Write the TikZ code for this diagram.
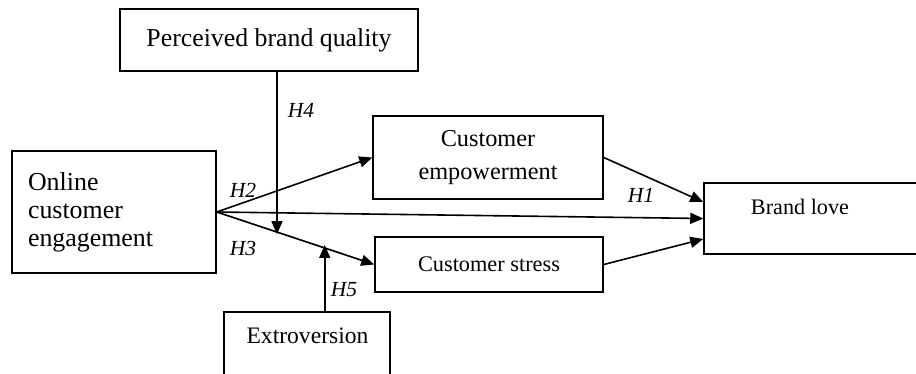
\documentclass[tikz,border=0pt]{standalone}
\usepackage{fontspec}
\setmainfont{Liberation Serif}
\usetikzlibrary{arrows.meta,calc}
\begin{document}
\begin{tikzpicture}[x=1pt,y=-1pt,
  box/.style={draw,line width=1.5pt,rectangle,inner sep=0pt},
  conn/.style={line width=1.6pt,-{Triangle[length=13pt,width=11pt]}},
  lab/.style={inner sep=0pt,font=\fontsize{21.5}{24}\selectfont\itshape},
  txt/.style={inner sep=0pt}]
\useasboundingbox (0,0) rectangle (916,373);
\clip (0,0) rectangle (916,373);
% boxes
\node[box, minimum width=298pt, minimum height=62pt, font=\fontsize{25.8}{30}\selectfont] (pbq) at (269,40) {Perceived brand quality};
\node[box, minimum height=122pt, text width=172pt, inner xsep=16pt, align=left, font=\fontsize{25.9}{28}\selectfont] (oce) at (114,212) {Online\\customer\\engagement};
\node[box, minimum width=230pt, minimum height=83pt, align=center, font=\fontsize{24.3}{33}\selectfont] (ce) at (488,157.5) {Customer\\empowerment};
\node[box, minimum width=228pt, minimum height=55pt, font=\fontsize{22.3}{26}\selectfont] (cs) at (489,264.5) {Customer stress};
\node[box, minimum width=226pt, minimum height=71pt] (bl) at (817,218.5) {};
\node[txt, anchor=base, font=\fontsize{22.2}{26}\selectfont] (bltext) at (800,214) {Brand love};
\node[box, minimum width=166pt, minimum height=80pt] (ex) at (307,352) {};
\node[txt, anchor=base, font=\fontsize{23.6}{26}\selectfont] (extext) at (307.5,343) {Extroversion};
% connectors
\draw[conn] (oce.east) -- (ce.west);
\draw[conn] (oce.east) -- (bl.west);
\draw[conn] (oce.east) -- (cs.west);
\draw[conn] (ce.east) -- ([yshift=16.5pt]bl.west);
\draw[conn] (cs.east) -- ([yshift=-20.5pt]bl.west);
\coordinate (m4) at ($(oce.east)!0.3836!(cs.west)$);
\coordinate (m5) at ($(oce.east)!0.6855!(cs.west)$);
\draw[conn] ([xshift=8pt]pbq.south) -- ([xshift=8pt,yshift=-2pt]pbq.south |- m4);
\draw[conn] (ex.north -| m5) -- ([yshift=3pt]m5);
% labels
\node[lab] (h4) at (301,110) {H4};
\node[lab] (h2) at (243,190) {H2};
\node[lab] (h3) at (243,248) {H3};
\node[lab] (h5) at (344,290) {H5};
\node[lab] (h1) at (641,195) {H1};
\end{tikzpicture}
\end{document}
